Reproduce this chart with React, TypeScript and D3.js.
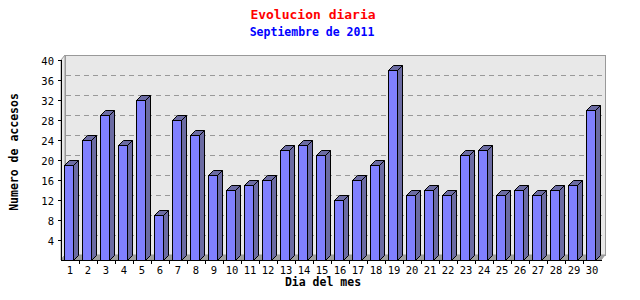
import React from "react";
import * as d3 from "d3";

const days = Array.from({ length: 30 }, (_, i) => String(i + 1));
const visits = [19, 24, 29, 23, 32, 9, 28, 25, 17, 14, 15, 16, 22, 23, 21, 12, 16, 19, 38, 13, 14, 13, 21, 22, 13, 14, 13, 14, 15, 30];
const yTicks = [4, 8, 12, 16, 20, 24, 28, 32, 36, 40];
const gridTicks = [4, 8, 12, 16, 20, 24, 28, 32, 36];
const title = "Evolucion diaria";
const subtitle = "Septiembre de 2011";
const xTitle = "Dia del mes";
const yTitle = "Numero de accesos";

const W = 640, H = 300;
const left = 61, right = 601, top = 60, bottom = 260;
const wdx = 4, wdy = 5; // wall depth
const bdx = 5, bdy = 5; // bar depth
const mono = "'DejaVu Sans Mono', monospace";

export default function App() {
  const x = d3.scaleBand<string>().domain(days).range([left, right]).padding(0);
  const y = d3.scaleLinear().domain([0, 40]).range([bottom, top]);
  const bw = x.bandwidth();
  const frontW = 9;

  return (
    <svg width={W} height={H} style={{ display: "block", position: "absolute", left: 0, top: 0 }}>
      <rect width={W} height={H} fill="#fff" />
      {/* titles */}
      <text x={313} y={19} textAnchor="middle" fill="#ff0000" fontFamily={mono} fontWeight="bold" fontSize={13}>{title}</text>
      <text x={312} y={36} textAnchor="middle" fill="#0000ff" fontFamily={mono} fontWeight="bold" fontSize={11.5}>{subtitle}</text>

      {/* left wall */}
      <polygon points={`${left},${bottom} ${left},${top} ${left + wdx},${top - wdy} ${left + wdx},${bottom - wdy}`} fill="#e8e8e8" stroke="#999" strokeWidth={1} />
      {/* back wall */}
      <rect x={left + wdx + 0.5} y={top - wdy + 0.5} width={right - left} height={bottom - top} fill="#e8e8e8" stroke="#999" strokeWidth={1} />
      {/* grid lines */}
      {gridTicks.map((t) => (
        <line key={t} x1={left + wdx + 1} x2={right + wdx} y1={Math.round(y(t) - wdy) + 0.5} y2={Math.round(y(t) - wdy) + 0.5} stroke="#999" strokeDasharray="5,4" />
      ))}
      {/* floor */}
      <polygon points={`${left},${bottom} ${left + wdx},${bottom - wdy} ${right + wdx},${bottom - wdy} ${right},${bottom}`} fill="#a0a0a0" stroke="#999" />

      {/* bars */}
      {visits.map((v, i) => {
        const x0 = (x(days[i]) as number) + 3;
        const x1 = x0 + frontW;
        const yt = Math.round(y(v));
        return (
          <g key={i} stroke="#000" strokeWidth={1} strokeLinejoin="miter">
            <polygon points={`${x1 + 0.5},${bottom + 0.5} ${x1 + 0.5},${yt + 0.5} ${x1 + bdx + 0.5},${yt - bdy + 0.5} ${x1 + bdx + 0.5},${bottom - bdy + 0.5}`} fill="#6b6ba3" />
            <polygon points={`${x0 + 0.5},${yt + 0.5} ${x0 + bdx + 0.5},${yt - bdy + 0.5} ${x1 + bdx + 0.5},${yt - bdy + 0.5} ${x1 + 0.5},${yt + 0.5}`} fill="#6b6ba3" />
            <rect x={x0 + 0.5} y={yt + 0.5} width={frontW} height={bottom - yt} fill="#8080ff" />
          </g>
        );
      })}

      {/* axes */}
      <line x1={left + 0.5} x2={left + 0.5} y1={top} y2={bottom + 1} stroke="#000" />
      <line x1={left} x2={right + 1} y1={bottom + 0.5} y2={bottom + 0.5} stroke="#000" />
      {yTicks.map((t) => (
        <g key={t}>
          <line x1={left - 3} x2={left} y1={Math.round(y(t)) + 0.5} y2={Math.round(y(t)) + 0.5} stroke="#000" />
          <text x={left - 7} y={y(t) + 4.5} textAnchor="end" fontFamily={mono} fontSize={10.5} fill="#000">{t}</text>
        </g>
      ))}
      {days.map((d, i) => (
        <g key={d}>
          {i > 0 && <line x1={(x(d) as number) + 0.5} x2={(x(d) as number) + 0.5} y1={bottom} y2={bottom + 4} stroke="#000" />}
          <text x={(x(d) as number) + bw / 2} y={273.5} textAnchor="middle" fontFamily={mono} fontSize={10.5} fill="#000">{d}</text>
        </g>
      ))}
      <text x={323} y={286} textAnchor="middle" fontFamily={mono} fontWeight="bold" fontSize={11.5} fill="#000">{xTitle}</text>
      <text transform={`translate(18,152) rotate(-90)`} textAnchor="middle" fontFamily={mono} fontWeight="bold" fontSize={11.5} fill="#000">{yTitle}</text>
    </svg>
  );
}
